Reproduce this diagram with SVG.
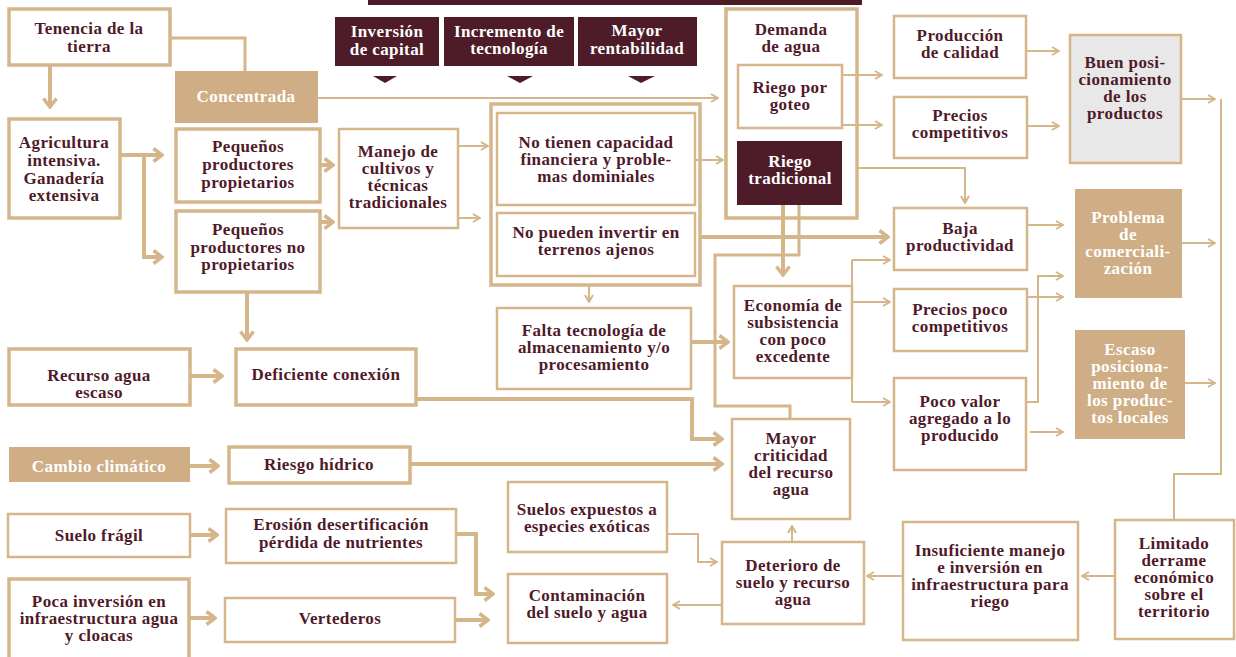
<svg xmlns="http://www.w3.org/2000/svg" width="1236" height="657" viewBox="0 0 1236 657">
<style>
text{font-family:"Liberation Serif","Times New Roman",serif;font-weight:bold;font-size:17px;letter-spacing:0.4px;text-anchor:middle;fill:#4f1a2a}
text.w{fill:#ffffff}
.b{fill:#ffffff;stroke:#d5b68a;stroke-width:2.5}
.bt{fill:#ffffff;stroke:#d5b68a;stroke-width:3.5}
.tan{fill:#cfae86}
.dark{fill:#4e1b29}
.gray{fill:#e8e8e8;stroke:#d5b68a;stroke-width:2.5}
.ct{fill:none;stroke:#d5b68a;stroke-width:4}
.cn{fill:none;stroke:#d5b68a;stroke-width:2}
</style>
<defs>
<marker id="ah" viewBox="0 0 12 16" markerWidth="12" markerHeight="16" refX="10" refY="8" orient="auto" markerUnits="userSpaceOnUse">
<path d="M1.5,1.5 L10,8 L1.5,14.5" fill="none" stroke="#d5b68a" stroke-width="3.5"/>
</marker>
<marker id="at" viewBox="0 0 9 10" markerWidth="9" markerHeight="10" refX="8" refY="5" orient="auto" markerUnits="userSpaceOnUse">
<path d="M1,1 L8,5 L1,9" fill="none" stroke="#d5b68a" stroke-width="2"/>
</marker>
</defs>
<rect width="1236" height="657" fill="#ffffff"/>
<rect x="368" y="0" width="494" height="5" class="dark"/>

<g id="connectors">
<path class="ct" d="M50,65 V107" marker-end="url(#ah)"/>
<path class="ct" style="stroke-width:3" d="M170,38 H245 V71"/>
<path class="ct" d="M120,155 H162" marker-end="url(#ah)"/>
<path class="ct" d="M144,155 V257 H162" marker-end="url(#ah)"/>
<path class="ct" d="M320,165 H333" marker-end="url(#ah)"/>
<path class="ct" d="M320,222 H333" marker-end="url(#ah)"/>
<path class="ct" d="M247,292 V340" marker-end="url(#ah)"/>
<path class="ct" d="M190,376 H222" marker-end="url(#ah)"/>
<path class="ct" d="M416,399 H692 V439 H722" marker-end="url(#ah)"/>
<path class="ct" d="M700,237 H888" marker-end="url(#ah)"/>
<path class="ct" d="M691,342 H728" marker-end="url(#ah)"/>
<path class="ct" d="M783,205 V275" marker-end="url(#ah)"/>
<path class="ct" d="M799,205 V255 H715 V406 H790 V419" style="stroke-width:3"/>
<path class="ct" d="M190,466 H218" marker-end="url(#ah)"/>
<path class="ct" d="M410,464 H722" marker-end="url(#ah)"/>
<path class="ct" d="M190,535 H217" marker-end="url(#ah)"/>
<path class="ct" d="M456,534 H476 V594 H493" marker-end="url(#ah)"/>
<path class="ct" d="M189,618 H215" marker-end="url(#ah)"/>
<path class="ct" d="M455,620 H488" marker-end="url(#ah)"/>

<path class="cn" d="M318,98 H718" marker-end="url(#at)"/>
<path class="cn" d="M458,146 H488" marker-end="url(#at)"/>
<path class="cn" d="M458,218 H480" marker-end="url(#at)"/>
<path class="cn" d="M695,160 H723" marker-end="url(#at)"/>
<path class="cn" d="M589,285 V302" marker-end="url(#at)"/>
<path class="cn" d="M842,75 H882" marker-end="url(#at)"/>
<path class="cn" d="M842,125 H882" marker-end="url(#at)"/>
<path class="cn" d="M857,168 H965 V203" marker-end="url(#at)"/>
<path class="cn" d="M1026,51 H1059" marker-end="url(#at)"/>
<path class="cn" d="M1027,126 H1059" marker-end="url(#at)"/>
<path class="cn" d="M1181,99 H1215" marker-end="url(#at)"/>
<path class="cn" d="M1182,243 H1215" marker-end="url(#at)"/>
<path class="cn" d="M1185,383 H1215" marker-end="url(#at)"/>
<path class="cn" d="M1221,99 V474 H1174 V519"/>
<path class="cn" d="M1027,225 H1063" marker-end="url(#at)"/>
<path class="cn" d="M852,260 V402"/>
<path class="cn" d="M852,260 H890" marker-end="url(#at)"/>
<path class="cn" d="M852,302 H890" marker-end="url(#at)"/>
<path class="cn" d="M852,402 H890" marker-end="url(#at)"/>
<path class="cn" d="M1027,297 H1063" marker-end="url(#at)"/>
<path class="cn" d="M1026,402 H1038 V276 H1063" marker-end="url(#at)"/>
<path class="cn" d="M1030,432 H1063" marker-end="url(#at)"/>
<path class="cn" d="M667,534 H698 V562 H717" marker-end="url(#at)"/>
<path class="cn" d="M721,605 H673" marker-end="url(#at)"/>
<path class="cn" d="M792,542 V526" marker-end="url(#at)"/>
<path class="cn" d="M902,576 H867" marker-end="url(#at)"/>
<path class="cn" d="M1114,576 H1082" marker-end="url(#at)"/>
</g>

<g id="inversion">
<rect x="335" y="17" width="104" height="49" class="dark"/>
<text class="w" x="387" y="37">Inversión</text>
<text class="w" x="387" y="55">de capital</text>
<polygon points="373,76 397,76 385,83" class="dark"/>
</g>
<g id="incremento">
<rect x="444" y="17" width="130" height="49" class="dark"/>
<text class="w" x="509" y="37">Incremento de</text>
<text class="w" x="509" y="54">tecnología</text>
<polygon points="507,76 533,76 520,83" class="dark"/>
</g>
<g id="rentabilidad">
<rect x="578" y="17" width="119" height="49" class="dark"/>
<text class="w" x="637" y="36">Mayor</text>
<text class="w" x="637" y="54">rentabilidad</text>
<polygon points="628,76 655,76 641,83" class="dark"/>
</g>

<g id="tenencia">
<rect x="9" y="9" width="161" height="56" class="bt"/>
<text x="89" y="34">Tenencia de la</text>
<text x="89" y="52">tierra</text>
</g>
<g id="concentrada">
<rect x="175" y="71" width="143" height="52" class="tan"/>
<text class="w" x="246" y="102">Concentrada</text>
</g>
<g id="agricultura">
<rect x="9" y="119" width="111" height="99" class="bt"/>
<text x="64" y="148">Agricultura</text>
<text x="64" y="166">intensiva.</text>
<text x="64" y="184">Ganadería</text>
<text x="64" y="201">extensiva</text>
</g>
<g id="prop">
<rect x="176" y="129" width="144" height="73" class="bt"/>
<text x="248" y="152">Pequeños</text>
<text x="248" y="170">productores</text>
<text x="248" y="188">propietarios</text>
</g>
<g id="noprop">
<rect x="176" y="211" width="144" height="81" class="bt"/>
<text x="248" y="235">Pequeños</text>
<text x="248" y="253">productores no</text>
<text x="248" y="270">propietarios</text>
</g>
<g id="manejo">
<rect x="339" y="129" width="119" height="99" class="b"/>
<text x="398" y="157">Manejo de</text>
<text x="398" y="174">cultivos y</text>
<text x="398" y="191">técnicas</text>
<text x="398" y="208">tradicionales</text>
</g>
<g id="capacidad">
<rect x="491" y="104" width="209" height="181" class="bt" style="fill:none"/>
<rect x="497" y="113" width="198" height="92" class="b"/>
<text x="596" y="148">No tienen capacidad</text>
<text x="596" y="165">financiera y proble-</text>
<text x="596" y="182">mas dominiales</text>
<rect x="497" y="213" width="198" height="63" class="b"/>
<text x="596" y="238">No pueden invertir en</text>
<text x="596" y="255">terrenos ajenos</text>
</g>
<g id="falta">
<rect x="497" y="308" width="194" height="81" class="b"/>
<text x="594" y="336">Falta tecnología de</text>
<text x="594" y="353">almacenamiento y/o</text>
<text x="594" y="370">procesamiento</text>
</g>
<g id="demanda">
<rect x="726" y="9" width="131" height="209" class="bt" style="fill:none"/>
<text x="791" y="35">Demanda</text>
<text x="791" y="52">de agua</text>
<rect x="738" y="65" width="104" height="63" class="b"/>
<text x="790" y="93">Riego por</text>
<text x="790" y="110">goteo</text>
<rect x="737" y="141" width="105" height="64" class="dark"/>
<text class="w" x="790" y="167">Riego</text>
<text class="w" x="790" y="184">tradicional</text>
</g>
<g id="produccion">
<rect x="894" y="16" width="132" height="62" class="b"/>
<text x="960" y="41">Producción</text>
<text x="960" y="58">de calidad</text>
</g>
<g id="precioscomp">
<rect x="894" y="97" width="133" height="61" class="b"/>
<text x="960" y="121">Precios</text>
<text x="960" y="138">competitivos</text>
</g>
<g id="buen">
<rect x="1070" y="35" width="111" height="128" class="gray"/>
<text x="1125" y="68">Buen posi-</text>
<text x="1125" y="85">cionamiento</text>
<text x="1125" y="102">de los</text>
<text x="1125" y="119">productos</text>
</g>
<g id="baja">
<rect x="894" y="208" width="133" height="62" class="b"/>
<text x="960" y="234">Baja</text>
<text x="960" y="251">productividad</text>
</g>
<g id="problema">
<rect x="1075" y="189" width="107" height="109" class="tan"/>
<text class="w" x="1128" y="223">Problema</text>
<text class="w" x="1128" y="240">de</text>
<text class="w" x="1128" y="257">comerciali-</text>
<text class="w" x="1128" y="274">zación</text>
</g>
<g id="economia">
<rect x="734" y="286" width="118" height="92" class="b"/>
<text x="793" y="311">Economía de</text>
<text x="793" y="328">subsistencia</text>
<text x="793" y="345">con poco</text>
<text x="793" y="362">excedente</text>
</g>
<g id="preciospoco">
<rect x="894" y="289" width="133" height="62" class="b"/>
<text x="960" y="315">Precios poco</text>
<text x="960" y="332">competitivos</text>
</g>
<g id="pocovalor">
<rect x="894" y="378" width="132" height="92" class="b"/>
<text x="960" y="407">Poco valor</text>
<text x="960" y="424">agregado a lo</text>
<text x="960" y="441">producido</text>
</g>
<g id="escaso">
<rect x="1075" y="330" width="110" height="109" class="tan"/>
<text class="w" x="1130" y="355">Escaso</text>
<text class="w" x="1130" y="372">posiciona-</text>
<text class="w" x="1130" y="389">miento de</text>
<text class="w" x="1130" y="406">los produc-</text>
<text class="w" x="1130" y="423">tos locales</text>
</g>
<g id="recurso">
<rect x="9" y="349" width="181" height="56" class="bt"/>
<text x="99" y="381">Recurso agua</text>
<text x="99" y="398">escaso</text>
</g>
<g id="deficiente">
<rect x="236" y="349" width="180" height="56" class="bt"/>
<text x="326" y="380">Deficiente conexión</text>
</g>
<g id="criticidad">
<rect x="732" y="419" width="118" height="100" class="b"/>
<text x="791" y="444">Mayor</text>
<text x="791" y="461">criticidad</text>
<text x="791" y="478">del recurso</text>
<text x="791" y="495">agua</text>
</g>
<g id="cambio">
<rect x="9" y="447" width="181" height="35" class="tan"/>
<text class="w" x="99" y="472">Cambio climático</text>
</g>
<g id="riesgo">
<rect x="229" y="447" width="181" height="36" class="bt"/>
<text x="319" y="470">Riesgo hídrico</text>
</g>
<g id="suelofragil">
<rect x="8" y="514" width="182" height="43" class="b"/>
<text x="99" y="541">Suelo frágil</text>
</g>
<g id="erosion">
<rect x="226" y="509" width="230" height="54" class="b"/>
<text x="341" y="530">Erosión desertificación</text>
<text x="341" y="548">pérdida de nutrientes</text>
</g>
<g id="pocainversion">
<rect x="9" y="579" width="180" height="80" class="bt"/>
<text x="99" y="607">Poca inversión en</text>
<text x="99" y="624">infraestructura agua</text>
<text x="99" y="641">y cloacas</text>
</g>
<g id="vertederos">
<rect x="225" y="598" width="230" height="44" class="b"/>
<text x="340" y="624">Vertederos</text>
</g>
<g id="suelosexp">
<rect x="508" y="482" width="159" height="70" class="b"/>
<text x="587" y="515">Suelos expuestos a</text>
<text x="587" y="532">especies exóticas</text>
</g>
<g id="contaminacion">
<rect x="508" y="574" width="159" height="69" class="b"/>
<text x="587" y="601">Contaminación</text>
<text x="587" y="618">del suelo y agua</text>
</g>
<g id="deterioro">
<rect x="722" y="542" width="142" height="82" class="b"/>
<text x="793" y="571">Deterioro de</text>
<text x="793" y="588">suelo y recurso</text>
<text x="793" y="605">agua</text>
</g>
<g id="insuficiente">
<rect x="903" y="522" width="175" height="118" class="b"/>
<text x="990" y="556">Insuficiente manejo</text>
<text x="990" y="573">e inversión en</text>
<text x="990" y="590">infraestructura para</text>
<text x="990" y="607">riego</text>
</g>
<g id="limitado">
<rect x="1115" y="520" width="119" height="119" class="b"/>
<text x="1174" y="549">Limitado</text>
<text x="1174" y="566">derrame</text>
<text x="1174" y="583">económico</text>
<text x="1174" y="600">sobre el</text>
<text x="1174" y="617">territorio</text>
</g>
</svg>
